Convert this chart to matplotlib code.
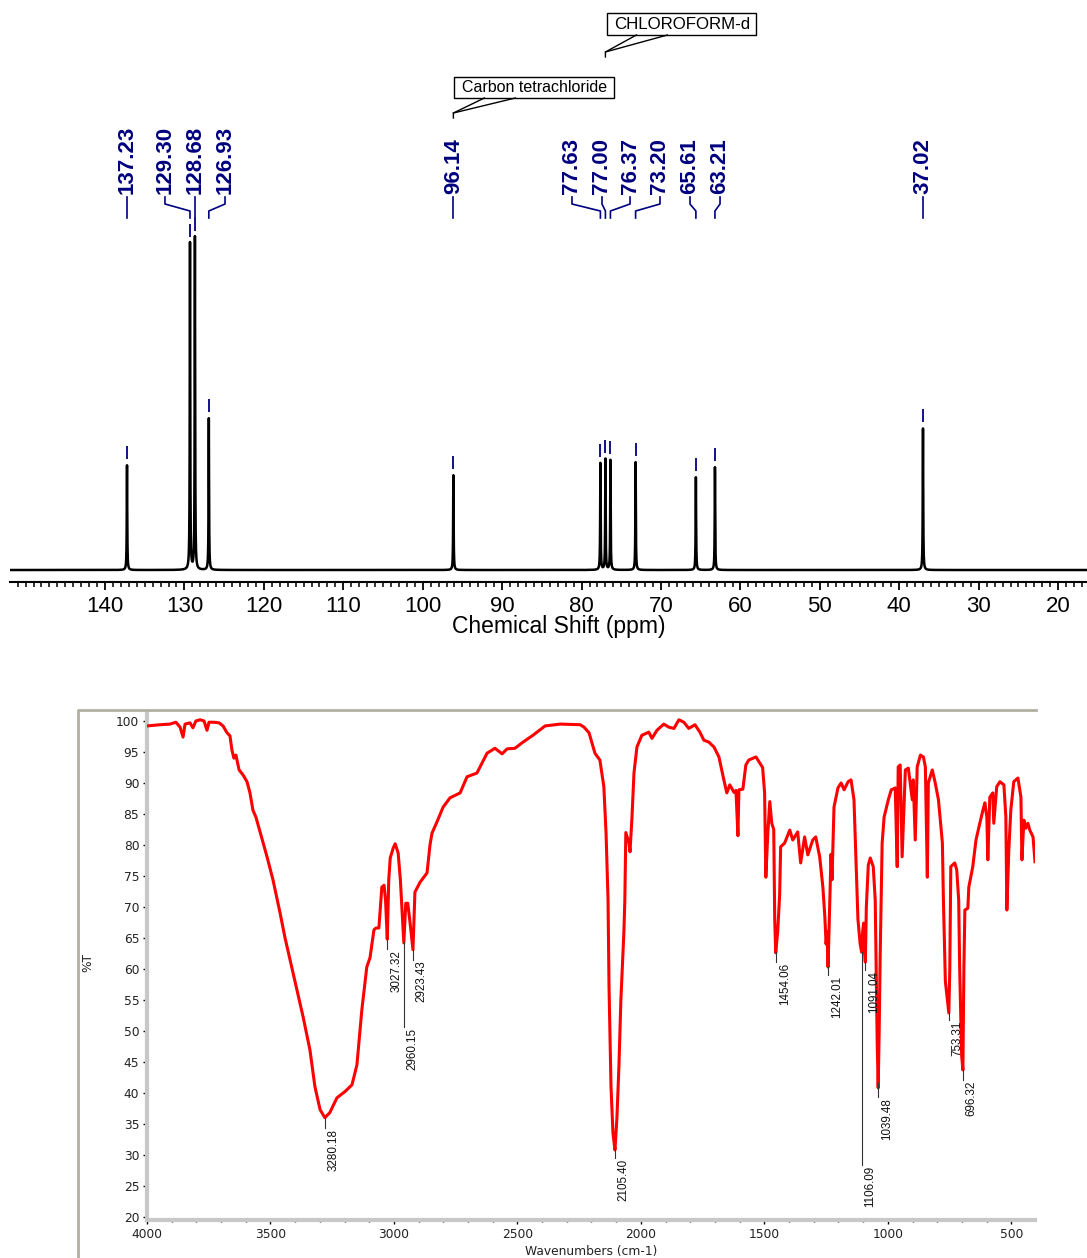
import numpy as np
import matplotlib
matplotlib.use('Agg')
import matplotlib.pyplot as plt
import matplotlib.transforms as mtransforms
from matplotlib.lines import Line2D
from matplotlib.patches import Rectangle

plt.rcParams['font.family'] = ['Liberation Sans', 'DejaVu Sans']

W, H = 1087, 1258

# ---- 13C NMR peak list (ppm, relative height) ----
nmr_shift = [137.23, 129.30, 128.68, 126.93, 96.14, 77.63, 77.00, 76.37, 73.20, 65.61, 63.21, 37.02]
nmr_height = [31.5, 98.2, 100.0, 45.6, 28.5, 32.1, 33.3, 33.0, 32.4, 27.9, 30.9, 42.6]
# where the rotated labels sit (ppm), spread apart for crowded peaks
nmr_label_ppm = [137.23, 132.45, 128.68, 124.89, 96.14, 81.21, 77.43, 73.90, 70.13, 66.35, 62.57, 37.02]
solvent_names = ['Carbon tetrachloride', 'CHLOROFORM-d']
solvent_shift = [96.14, 77.00]

# ---- IR spectrum (wavenumber cm-1, %T) ----
ir_wn = [4000, 3947, 3907, 3883, 3866, 3854, 3846, 3826, 3814, 3802, 3785, 3769, 3757, 3749, 3729,
         3708, 3692, 3676, 3664, 3656, 3648, 3640, 3627, 3611, 3595, 3583, 3571, 3559, 3542, 3514,
         3490, 3461, 3441, 3409, 3368, 3340, 3320, 3299, 3280, 3260, 3231, 3199, 3170, 3150, 3130,
         3110, 3097, 3081, 3073, 3061, 3049, 3040, 3034, 3027, 3021, 3015, 3003, 2995, 2983, 2974,
         2960, 2952, 2944, 2936, 2923, 2915, 2894, 2866, 2854, 2846, 2826, 2801, 2773, 2732, 2704,
         2664, 2623, 2591, 2562, 2542, 2510, 2477, 2437, 2388, 2327, 2246, 2230, 2210, 2186, 2166,
         2150, 2141, 2133, 2129, 2121, 2113, 2105, 2097, 2089, 2081, 2069, 2065, 2061, 2048, 2044,
         2036, 2028, 2016, 1996, 1968, 1955, 1935, 1907, 1887, 1866, 1846, 1826, 1806, 1781, 1761,
         1745, 1725, 1704, 1684, 1664, 1652, 1640, 1623, 1615, 1607, 1603, 1587, 1575, 1563, 1534,
         1507, 1499, 1494, 1486, 1478, 1470, 1462, 1458, 1454, 1446, 1438, 1434, 1418, 1397, 1385,
         1365, 1353, 1337, 1324, 1304, 1292, 1276, 1263, 1255, 1250, 1246, 1242, 1234, 1230, 1226,
         1218, 1202, 1189, 1177, 1161, 1149, 1137, 1129, 1121, 1112, 1106, 1102, 1098, 1095, 1091,
         1087, 1079, 1071, 1059, 1051, 1047, 1043, 1039, 1035, 1031, 1027, 1023, 1015, 998, 986,
         970, 962, 958, 950, 942, 929, 917, 901, 897, 889, 881, 868, 856, 848, 840,
         836, 820, 808, 795, 779, 775, 767, 753, 749, 745, 729, 721, 713, 709, 701,
         696, 692, 688, 676, 672, 656, 643, 631, 615, 607, 599, 595, 587, 575, 571,
         559, 546, 530, 522, 518, 510, 502, 490, 473, 461, 457, 449, 441, 433, 425,
         412, 404]
ir_t = [99.2, 99.4, 99.5, 99.8, 99.0, 97.4, 99.5, 99.7, 98.9, 100.0, 100.2, 100.0, 98.5, 99.8, 99.8,
        99.7, 99.2, 98.1, 97.6, 95.3, 94.0, 94.5, 92.1, 91.3, 90.2, 88.4, 85.6, 84.5, 82.1, 78.1,
        74.4, 69.0, 65.0, 59.4, 52.3, 46.9, 41.0, 37.3, 36.0, 36.8, 39.2, 40.2, 41.3, 44.5, 53.4,
        60.3, 61.8, 66.3, 66.6, 66.6, 73.2, 73.5, 71.1, 64.8, 74.4, 77.9, 79.5, 80.2, 78.7, 74.4,
        64.2, 70.6, 70.6, 67.9, 63.1, 72.4, 74.0, 75.5, 80.0, 81.9, 83.7, 86.1, 87.6, 88.4, 91.0,
        91.6, 94.8, 95.6, 94.7, 95.5, 95.6, 96.6, 97.7, 99.2, 99.5, 99.4, 99.0, 98.1, 94.8, 93.7,
        89.4, 81.9, 71.1, 57.1, 41.0, 33.5, 30.8, 36.0, 44.2, 55.0, 65.8, 71.0, 82.0, 80.3, 78.9,
        84.5, 91.6, 95.8, 97.7, 98.2, 97.2, 98.5, 99.5, 99.0, 98.8, 100.2, 99.8, 98.8, 99.4, 98.2,
        96.9, 96.6, 95.8, 94.2, 90.5, 88.4, 89.7, 88.5, 88.8, 81.5, 88.9, 89.0, 92.9, 93.7, 94.2,
        92.5, 88.4, 74.8, 81.9, 87.0, 83.5, 82.5, 68.0, 62.6, 66.0, 72.0, 79.7, 80.3, 82.4, 80.8,
        82.1, 77.1, 81.3, 78.4, 80.8, 81.3, 78.1, 73.2, 68.4, 64.0, 66.0, 60.3, 72.0, 78.5, 74.4,
        86.1, 89.2, 90.0, 88.9, 90.2, 90.5, 87.3, 77.6, 68.0, 64.0, 62.7, 66.0, 67.4, 63.0, 61.1,
        70.0, 76.8, 77.9, 76.5, 71.1, 60.0, 48.0, 40.8, 50.0, 62.0, 71.0, 80.3, 84.5, 87.3, 88.9,
        89.2, 76.5, 92.6, 92.9, 78.1, 92.1, 92.4, 87.3, 90.5, 80.8, 92.6, 94.5, 94.2, 92.6, 74.8,
        90.0, 92.1, 90.0, 87.3, 80.3, 71.3, 58.0, 52.9, 60.0, 76.5, 77.1, 76.0, 71.1, 60.0, 46.0,
        43.7, 60.0, 69.5, 69.8, 73.2, 76.5, 80.8, 82.9, 85.6, 86.8, 84.5, 77.6, 87.7, 88.4, 83.5,
        89.4, 90.2, 89.7, 84.5, 69.5, 79.2, 85.6, 90.2, 90.8, 87.7, 77.6, 84.0, 82.7, 83.5, 82.4,
        81.3, 77.3]
# labelled IR bands and where their leader lines end (%T)
ir_peak_wn = [3280.18, 3027.32, 2960.15, 2923.43, 2105.40, 1454.06, 1242.01, 1106.09, 1091.04, 1039.48, 753.31, 696.32]
ir_peak_end = [34.4, 63.2, 50.6, 61.5, 29.5, 61.1, 59.0, 28.4, 59.8, 39.4, 51.8, 42.1]

NAVY = '#000080'


def fx(px):
    return px / W


def fy(py):
    return 1 - py / H


fig = plt.figure(figsize=(W / 100, H / 100), dpi=100)

# ================= NMR panel =================
ax1 = fig.add_axes([fx(10), fy(582), fx(1087) - fx(10), fy(0) - fy(582)])
ax1.set_xlim(151.96, 16.37)
ax1.set_ylim(-3.6, 171.2)
PX = 3.33  # pixels per intensity unit

ppm = np.linspace(152, 16.3, 40000)
spec = np.zeros_like(ppm)
g = 0.035
for s, h in zip(nmr_shift, nmr_height):
    spec += h * g ** 2 / ((ppm - s) ** 2 + g ** 2)
ax1.plot(ppm, spec, color='black', lw=1.8, zorder=3)

for sp in ['left', 'right', 'top']:
    ax1.spines[sp].set_visible(False)
ax1.spines['bottom'].set_linewidth(1.5)
ax1.set_yticks([])
ax1.set_xticks(np.arange(140, 19, -10))
ax1.set_xticks(np.arange(17, 152, 1), minor=True)
ax1.tick_params(axis='x', which='major', length=5.8, width=1.3, pad=4, labelsize=16)
ax1.tick_params(axis='x', which='minor', length=3.6, width=1.1)
fig.text(fx(559), fy(627), 'Chemical Shift (ppm)', ha='center', va='center', fontsize=16.5)

blend = mtransforms.blended_transform_factory(ax1.transData, fig.transFigure)
for s, h, lp in zip(nmr_shift, nmr_height, nmr_label_ppm):
    ax1.text(lp, fy(194), '%.2f' % s, transform=blend, rotation=90, ha='center', va='bottom',
             color=NAVY, fontsize=16, fontweight='bold')
    ax1.add_line(Line2D([lp, lp, s, s], [fy(197), fy(204), fy(211), fy(218)],
                        transform=blend, color=NAVY, lw=1.2, clip_on=False))
    ax1.vlines(s, h + 6 / PX, h + 19 / PX, color=NAVY, lw=1.3, zorder=2)

# solvent callouts
ftr = fig.transFigure
box_geom = [(1, 161, 77, 98, 118, 11.5), (2, 151, 13, 35, 57, 12.2)]
for name, s, (b0, b1, yt, yb, ytip, fs) in zip(solvent_names, solvent_shift, box_geom):
    tx = ax1.transData.transform((s, 0))[0]
    fig.patches.append(Rectangle((fx(tx + b0), fy(yb)), fx(b1 - b0), fy(yt) - fy(yb),
                                 transform=ftr, fc='white', ec='black', lw=1))
    fig.text(fx(tx + (b0 + b1) / 2), fy((yt + yb) / 2 + 0.5), name, ha='center', va='center', fontsize=fs)
    fig.add_artist(Line2D([fx(tx), fx(tx), fx(tx + 31)], [fy(ytip), fy(ytip - 5), fy(yb)],
                          transform=ftr, color='black', lw=1))
    fig.add_artist(Line2D([fx(tx), fx(tx + 62)], [fy(ytip - 5), fy(yb)],
                          transform=ftr, color='black', lw=1))

# ================= IR panel =================
fig.add_artist(Line2D([fx(78), fx(78), fx(1036)], [fy(1258), fy(710), fy(710)],
                      transform=ftr, color='#b3afa2', lw=2))

ax2 = fig.add_axes([fx(147), fy(1220), fx(1035) - fx(147), fy(712) - fy(1220)])
ax2.set_xlim(4000, 404)
ax2.set_ylim(19.5, 101.45)
ax2.plot(ir_wn, ir_t, color='red', lw=2.2, zorder=3)

for sp in ['right', 'top']:
    ax2.spines[sp].set_visible(False)
for sp in ['left', 'bottom']:
    ax2.spines[sp].set_color('#c8c8c8')
    ax2.spines[sp].set_linewidth(3)
ax2.set_xticks(np.arange(4000, 499, -500))
ax2.set_xticks(np.arange(3900, 404, -100), minor=True)
ax2.set_yticks(np.arange(20, 101, 5))
ax2.set_yticks(np.arange(20, 101, 1), minor=True)
ax2.tick_params(which='major', length=3, width=1, color='black', pad=2.5, labelsize=8.8,
                labelfontfamily='DejaVu Sans', labelcolor='#222222')
ax2.tick_params(which='minor', length=1.5, width=1, color='black')

fig.text(fx(591), fy(1251), 'Wavenumbers (cm-1)', ha='center', va='center', fontsize=8.8,
         family='DejaVu Sans', color='#222222')
fig.text(fx(88), fy(963), '%T', ha='center', va='center', rotation=90, fontsize=8.8,
         family='DejaVu Sans', color='#222222')

lbl_tr = mtransforms.offset_copy(ax2.transData, fig=fig, x=3, y=-1, units='dots')
wn_r = np.array(ir_wn[::-1], dtype=float)
t_r = np.array(ir_t[::-1], dtype=float)
for wn, end in zip(ir_peak_wn, ir_peak_end):
    top = np.interp(wn, wn_r, t_r)
    ax2.plot([wn, wn], [top, end], color='#333333', lw=0.8, zorder=4)
    ax2.text(wn, end, '%.2f' % wn, transform=lbl_tr, rotation=90, ha='left', va='top',
             fontsize=8.4, color='#111111')

fig.savefig('out.png', dpi=100)
